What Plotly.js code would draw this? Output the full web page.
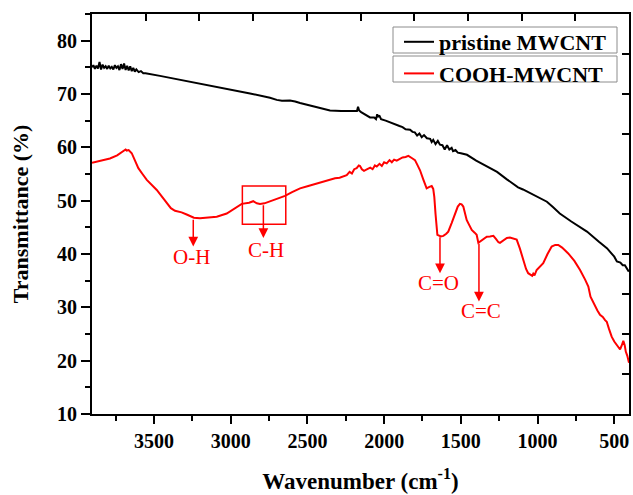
<!DOCTYPE html>
<html>
<head>
<meta charset="utf-8">
<script src="https://cdn.plot.ly/plotly-3.0.1.min.js"></script>
<style>html,body{margin:0;padding:0;background:#fff;}#chart{width:633px;height:495px;}</style>
</head>
<body>
<div id="chart"></div>
<script>
// Pristine MWCNT (wavenumber cm-1, transmittance %)
const pristineX = [3904,3895,3885,3875,3865,3855,3845,3835,3825,3815,3805,3795,3785,3775,3765,3755,3745,3735,3725,3715,3705,3695,3685,3675,3665,3655,3645,3635,3625,3615,3600,3585,3570,3555,3461,3350,3200,3005,2874,2744,2700,2666,2640,2614,2580,2548,2450,2353,2280,2222,2190,2177,2170,2163,2150,2120,2092,2065,2053,2045,2040,2030,2020,1990,1942,1900,1880,1860,1831,1815,1800,1785,1770,1755,1740,1721,1700,1690,1680,1665,1650,1636,1620,1605,1590,1575,1560,1551,1535,1520,1500,1460,1400,1350,1264,1200,1127,1095,1020,939,900,855,780,678,600,548,500,483,460,445,431,420,405];
const pristineY = [75.0,75.4,74.7,75.3,74.8,76.0,74.6,75.5,74.9,75.2,74.7,75.3,74.8,75.1,74.6,75.4,74.9,75.2,74.5,75.6,74.7,75.7,74.5,75.3,74.4,75.2,74.3,74.9,74.2,74.6,74.1,74.3,73.9,73.9,73.4,72.8,71.9,70.8,70.1,69.3,68.9,68.75,68.8,68.8,68.6,68.3,67.6,66.9,66.8,66.8,66.7,66.8,67.6,66.9,66.6,66.1,65.6,65.6,65.3,66.2,65.8,65.9,65.3,65.0,64.4,64.0,63.8,63.4,63.3,62.9,62.8,62.2,62.6,61.9,62.3,61.7,61.6,61.0,61.4,60.6,61.2,60.5,60.4,59.6,60.4,59.6,59.9,59.3,59.5,59.0,58.9,58.6,57.5,56.7,55.4,54.0,52.5,52.1,51.0,49.8,48.8,47.6,46.1,44.2,42.3,41.1,39.5,38.6,38.4,37.9,37.9,37.4,36.7];

// COOH-MWCNT
const coohX = [3904,3850,3787,3740,3700,3685,3678,3665,3645,3625,3602,3575,3547,3482,3417,3390,3363,3320,3287,3240,3200,3150,3091,3026,2980,2928,2880,2853,2830,2809,2780,2744,2700,2646,2600,2548,2500,2440,2380,2320,2290,2260,2244,2225,2210,2195,2179,2165,2157,2145,2131,2110,2090,2075,2060,2048,2030,2015,2000,1983,1965,1950,1935,1918,1900,1880,1860,1842,1820,1799,1785,1766,1745,1723,1705,1690,1680,1673,1665,1653,1630,1614,1595,1582,1560,1538,1520,1506,1495,1484,1472,1462,1450,1440,1429,1410,1397,1386,1370,1350,1331,1310,1288,1270,1255,1245,1220,1200,1180,1155,1136,1115,1093,1075,1061,1045,1035,1028,1020,1006,985,963,935,908,885,865,840,800,760,723,690,669,655,647,630,610,593,575,560,549,535,517,500,484,470,462,452,441,432,425,415,408,404];
const coohY = [57.1,57.5,57.9,58.5,59.2,59.6,59.4,59.5,58.9,57.6,56.1,55.0,53.9,52.0,49.5,48.6,48.1,47.8,47.4,46.8,46.7,46.8,47.0,47.6,48.4,49.4,49.6,49.9,49.5,49.4,49.5,49.9,50.3,50.9,51.6,52.3,52.7,53.2,53.6,54.2,54.3,54.7,54.8,55.4,55.1,55.9,56.1,56.6,56.5,55.9,55.6,55.9,56.2,55.9,56.6,56.4,56.9,56.5,57.2,57.0,57.6,57.2,57.7,57.5,57.8,58.1,58.2,58.4,58.0,57.6,56.8,55.7,54.0,52.3,52.6,52.75,52.2,50.7,47.5,43.6,43.3,43.4,43.8,44.2,45.8,47.6,48.9,49.4,49.3,48.9,47.5,46.4,45.7,45.2,44.5,44.0,43.6,42.1,42.4,42.9,43.25,43.3,43.4,42.8,42.2,42.1,42.6,43.0,43.1,42.9,42.7,41.0,38.9,37.2,36.4,36.1,35.9,36.3,36.0,37.0,37.6,38.3,40.0,41.4,41.7,41.7,41.2,40.1,38.7,37.0,35.2,33.9,32.0,31.5,30.6,29.4,28.6,28.2,27.6,27.3,26.0,24.5,23.6,22.9,22.4,22.1,22.8,23.7,22.9,21.7,20.9,20.1,19.6];

const seriesNames = ['pristine MWCNT', 'COOH-MWCNT'];
const xTickVals = [3500, 3000, 2500, 2000, 1500, 1000, 500];
const yTickVals = [10, 20, 30, 40, 50, 60, 70, 80];

// Band assignments
const bandLabels = ['O-H', 'C-H', 'C=O', 'C=C'];
const bandX = [3244, 2787, 1636, 1382];
const bandTail = [46.7, 49.4, 43.4, 42.2];
const bandTip = [41.4, 43.0, 36.4, 31.1];
const bandLabelX = [3258, 2770, 1647, 1371];
const bandLabelY = [39.4, 40.75, 34.5, 29.3];
const chBox = {x0: 2924, x1: 2641, y0: 45.6, y1: 52.75};

const FONT = '"Liberation Serif", "Times New Roman", serif';

const traces = [
  {x: pristineX, y: pristineY, name: seriesNames[0], type: 'scatter', mode: 'lines',
   line: {color: '#000000', width: 2}},
  {x: coohX, y: coohY, name: seriesNames[1], type: 'scatter', mode: 'lines',
   line: {color: '#ff0000', width: 2}},
  {x: [], y: [], xaxis: 'x2', yaxis: 'y2', showlegend: false, hoverinfo: 'skip', type: 'scatter'}
];

const annotations = [];
for (let i = 0; i < bandLabels.length; i++) {
  annotations.push({
    x: bandX[i], y: bandTip[i], ax: bandX[i], ay: bandTail[i], axref: 'x', ayref: 'y',
    xref: 'x', yref: 'y', text: '', showarrow: true, arrowhead: 2, arrowsize: 1.3,
    arrowwidth: 1.5, arrowcolor: '#ff0000', standoff: 0, startstandoff: 0
  });
  annotations.push({
    x: bandLabelX[i], y: bandLabelY[i], xref: 'x', yref: 'y', text: bandLabels[i],
    showarrow: false, xanchor: 'center', yanchor: 'middle',
    font: {family: FONT, size: 21, color: '#ff0000'}
  });
}

// legend frames (one per entry, as in the reference)
const legendBoxes = [
  {type: 'rect', xref: 'paper', yref: 'paper', x0: (393 - 92) / 537, x1: (617 - 92) / 537,
   y0: (414 - 53) / 400, y1: (414 - 27) / 400, line: {color: '#8c8c8c', width: 1}, fillcolor: '#ffffff', layer: 'above'},
  {type: 'rect', xref: 'paper', yref: 'paper', x0: (393 - 92) / 537, x1: (617 - 92) / 537,
   y0: (414 - 82) / 400, y1: (414 - 56) / 400, line: {color: '#8c8c8c', width: 1}, fillcolor: '#ffffff', layer: 'above'}
];

const layout = {
  width: 633, height: 495,
  margin: {l: 92, r: 4, t: 14, b: 81},
  paper_bgcolor: '#ffffff', plot_bgcolor: '#ffffff',
  font: {family: FONT, color: '#000000'},
  showlegend: true,
  xaxis: {
    range: [3904, 404], tickvals: xTickVals, ticks: 'outside', ticklen: 8, tickwidth: 2,
    tickcolor: '#000', showline: true, linecolor: '#000', linewidth: 2, mirror: true,
    showgrid: false, zeroline: false,
    tickfont: {family: FONT, size: 20, weight: 'bold', color: '#000'},
    minor: {dtick: 250, tick0: 0, ticks: 'outside', ticklen: 5, tickwidth: 2, tickcolor: '#000', showgrid: false},
    title: {text: 'Wavenumber (cm<sup>-1</sup>)', font: {family: FONT, size: 23, weight: 'bold'}, standoff: 22},
    automargin: false
  },
  yaxis: {
    range: [10, 85], tickvals: yTickVals, ticks: 'outside', ticklen: 9, tickwidth: 2,
    tickcolor: '#000', showline: true, linecolor: '#000', linewidth: 2, mirror: true,
    showgrid: false, zeroline: false,
    tickfont: {family: FONT, size: 20, weight: 'bold', color: '#000'},
    minor: {dtick: 5, tick0: 0, ticks: 'outside', ticklen: 5, tickwidth: 2, tickcolor: '#000', showgrid: false},
    title: {text: 'Transmittance (%)', font: {family: FONT, size: 22, weight: 'bold'}, standoff: 22},
    automargin: false
  },
  xaxis2: {
    overlaying: 'x', side: 'top', anchor: 'y2', range: [0, 10], dtick: 1, tick0: 0,
    ticks: 'inside', ticklen: 7, tickwidth: 2, tickcolor: '#000',
    showticklabels: false, showline: false, showgrid: false, zeroline: false, fixedrange: true
  },
  yaxis2: {
    overlaying: 'y', side: 'right', anchor: 'x2', range: [0, 10], dtick: 1, tick0: 0,
    ticks: 'inside', ticklen: 7, tickwidth: 2, tickcolor: '#000',
    showticklabels: false, showline: false, showgrid: false, zeroline: false, fixedrange: true
  },
  legend: {
    x: (399 - 92) / 537, y: (414 - 21) / 400, xanchor: 'left', yanchor: 'top',
    borderwidth: 0, bgcolor: 'rgba(0,0,0,0)',
    font: {family: FONT, size: 22, weight: 'bold', color: '#000'}, tracegroupgap: 0
  },
  shapes: [
    {type: 'rect', xref: 'x', yref: 'y', x0: chBox.x0, x1: chBox.x1, y0: chBox.y0, y1: chBox.y1,
     line: {color: '#ff0000', width: 1.5}, fillcolor: 'rgba(0,0,0,0)'}
  ].concat(legendBoxes),
  annotations: annotations
};

Plotly.newPlot('chart', traces, layout, {staticPlot: true, displayModeBar: false});
</script>
</body>
</html>
